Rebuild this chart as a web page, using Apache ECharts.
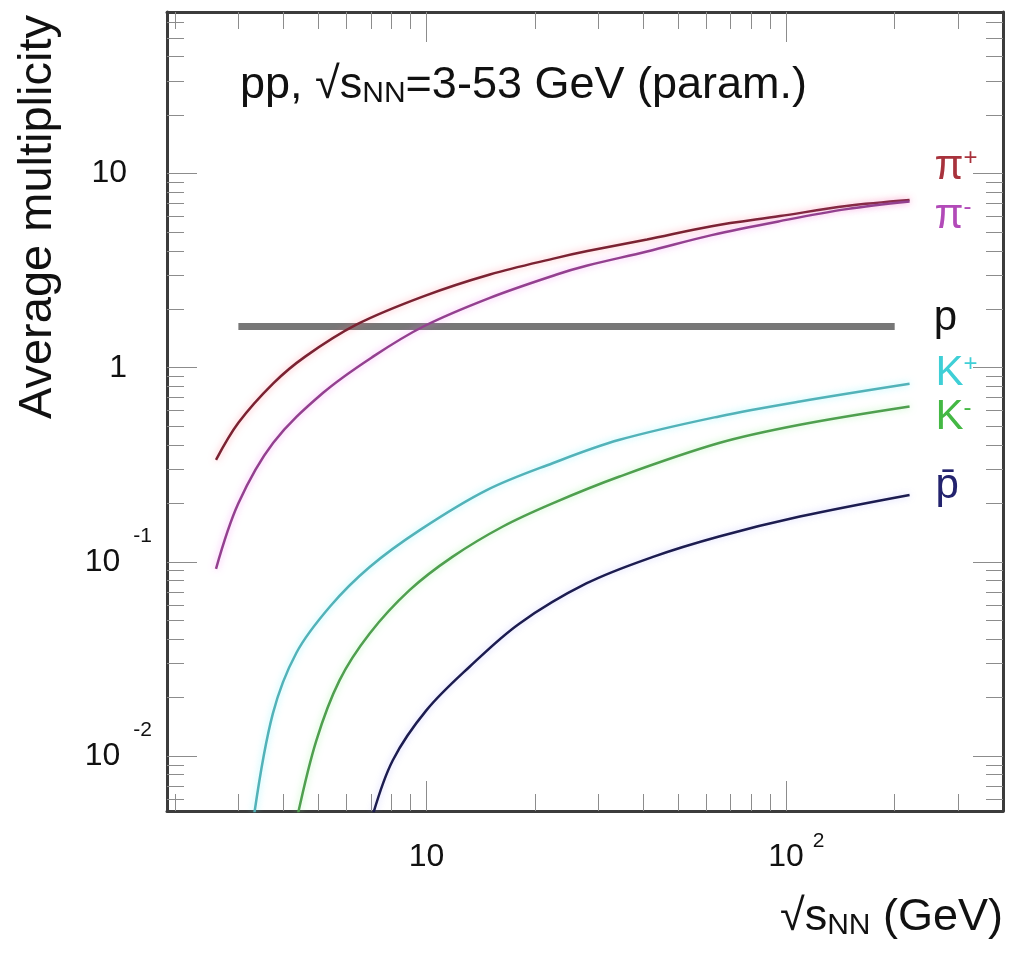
<!DOCTYPE html>
<html>
<head>
<meta charset="utf-8">
<title>Average multiplicity vs sqrt(s)</title>
<script src="https://cdn.jsdelivr.net/npm/echarts@6.0.0/dist/echarts.min.js"></script>
<style>
  html, body { margin: 0; padding: 0; background: #fff; }
  #chart { width: 1009px; height: 956px; }
</style>
</head>
<body>
<div id="chart"></div>
<script>
// sqrt(s_NN) in GeV and average multiplicity
var piPlusX  = [2.6, 3.0, 3.75, 4.6, 6.4, 9.8, 15, 23, 28, 41, 62, 96, 147, 220];
var piPlusY  = [0.335, 0.52, 0.83, 1.14, 1.67, 2.33, 3.02, 3.68, 3.99, 4.58, 5.36, 6.04, 6.8, 7.3];
var piMinusX = [2.6, 3.0, 3.75, 5.15, 7.1, 9.8, 15, 23, 28, 41, 62, 96, 147, 220];
var piMinusY = [0.092, 0.2, 0.41, 0.74, 1.14, 1.63, 2.29, 3.02, 3.36, 3.97, 4.82, 5.69, 6.56, 7.18];
var protonX  = [3, 200];
var protonY  = [1.63, 1.63];
var kPlusX   = [3.32, 3.74, 4.35, 5.4, 6.95, 9.6, 14.7, 22.4, 34.4, 65, 109, 220];
var kPlusY   = [0.005, 0.0165, 0.034, 0.059, 0.094, 0.146, 0.234, 0.322, 0.425, 0.561, 0.67, 0.827];
var kMinusX  = [4.39, 4.94, 5.73, 6.95, 8.97, 11.8, 16.3, 22.4, 34.4, 65, 109, 220];
var kMinusY  = [0.005, 0.012, 0.0245, 0.0427, 0.0714, 0.106, 0.152, 0.2, 0.275, 0.409, 0.508, 0.631];
var pbarX    = [7.1, 8.06, 10, 13.15, 18.1, 27.8, 42.6, 65, 109, 220];
var pbarY    = [0.005, 0.0095, 0.0172, 0.0287, 0.048, 0.0773, 0.106, 0.135, 0.171, 0.221];

// axis ranges and ticks
var xRange = [1.9, 400];
var yRange = [0.0052, 68];
var xMajor = [10, 100];
var xMinor = [2, 3, 4, 5, 6, 7, 8, 9, 20, 30, 40, 50, 60, 70, 80, 90, 200, 300];
var yMajor = [0.01, 0.1, 1, 10];
var yMinor = [0.006, 0.007, 0.008, 0.009, 0.02, 0.03, 0.04, 0.05, 0.06, 0.07, 0.08, 0.09,
              0.2, 0.3, 0.4, 0.5, 0.6, 0.7, 0.8, 0.9, 2, 3, 4, 5, 6, 7, 8, 9, 20, 30, 40, 50, 60];

var FONT = '"Liberation Sans", Arial, Helvetica, sans-serif';

function pairs(xs, ys) {
    return xs.map(function (x, i) { return [x, ys[i]]; });
}

function expOf(v) {
    var l = Math.log10(v);
    var e = Math.round(l);
    return Math.abs(l - e) < 1e-6 ? e : null;
}

function xLabel(v) {
    var e = expOf(v);
    if (e === null) return '';
    if (e === 0) return '{b|1}';
    if (e === 1) return '{b|10}';
    return '{be|10}{s|' + e + '}';
}

function yLabel(v) {
    var e = expOf(v);
    if (e === null) return '';
    if (e === 0) return '{b|1}{g| }';
    if (e === 1) return '{b|10}{g| }';
    return '{b|10}{s|' + e + '}';
}

var tickStyle = { color: '#8c8c8c', width: 1 };
var frameStyle = { color: '#3c3c3c', width: 3 };

function axis(pos, vals, len, lineOn, label) {
    var isX = pos === 'bottom' || pos === 'top';
    return {
        type: 'log',
        position: pos,
        min: isX ? xRange[0] : yRange[0],
        max: isX ? xRange[1] : yRange[1],
        axisLine: { show: lineOn, onZero: false, lineStyle: frameStyle },
        axisTick: { show: true, inside: true, length: len, customValues: vals, lineStyle: tickStyle },
        axisLabel: label || { show: false },
        splitLine: { show: false },
        minorTick: { show: false }
    };
}

var xLabelCfg = {
    show: true,
    customValues: xMajor,
    margin: 20,
    formatter: xLabel,
    color: '#111',
    rich: {
        b:  { fontSize: 32, lineHeight: 52, verticalAlign: 'middle', fontFamily: FONT, color: '#111' },
        be: { fontSize: 32, lineHeight: 52, verticalAlign: 'middle', fontFamily: FONT, color: '#111', padding: [0, 0, 0, 20] },
        s:  { fontSize: 21, lineHeight: 21, verticalAlign: 'top', fontFamily: FONT, color: '#111', padding: [0, 0, 0, 9] }
    }
};

var yLabelCfg = {
    show: true,
    customValues: yMajor,
    margin: 15,
    formatter: yLabel,
    color: '#111',
    rich: {
        b: { fontSize: 32, lineHeight: 72, verticalAlign: 'middle', fontFamily: FONT, color: '#111' },
        s: { fontSize: 21, lineHeight: 21, verticalAlign: 'top', fontFamily: FONT, color: '#111', padding: [0, 0, 0, 13] },
        g: { width: 25, fontSize: 20 }
    }
};

function endRich(color) {
    return {
        b: { fontSize: 42, lineHeight: 42, fontFamily: FONT, color: color },
        s: { fontSize: 24, lineHeight: 24, verticalAlign: 'top', fontFamily: FONT, color: color }
    };
}

function curve(name, data, color, glow, labelText, labelColor, offset, width) {
    return {
        name: name,
        type: 'line',
        data: data,
        smooth: 0.35,
        symbol: 'none',
        clip: true,
        lineStyle: { color: color, width: width || 2.5, shadowColor: glow, shadowBlur: glow ? 7 : 0 },
        endLabel: {
            show: true,
            formatter: labelText,
            offset: offset,
            rich: endRich(labelColor)
        }
    };
}

var chart = echarts.init(document.getElementById('chart'));

var option = {
    animation: false,
    backgroundColor: '#ffffff',
    grid: { left: 167, right: 6, top: 12, bottom: 145, outerBoundsMode: 'none', containLabel: false },
    xAxis: [
        axis('bottom', xMajor, 30, true, xLabelCfg),
        axis('bottom', xMinor, 17, false),
        axis('top', xMajor, 30, true),
        axis('top', xMinor, 17, false)
    ],
    yAxis: [
        axis('left', yMajor, 30, true, yLabelCfg),
        axis('left', yMinor, 17, false),
        axis('right', yMajor, 30, true),
        axis('right', yMinor, 17, false)
    ],
    series: [
        curve('p', pairs(protonX, protonY), '#777777', null, '{b|p}', '#111111', [31, -8], 7),
        curve('pi+', pairs(piPlusX, piPlusY), '#7a2232', 'rgba(255,110,130,0.55)', '{b|π}{s|+}', '#a8323c', [17, -33]),
        curve('pi-', pairs(piMinusX, piMinusY), '#93408f', 'rgba(240,110,240,0.55)', '{b|π}{s|-}', '#b24ab8', [17, 15]),
        curve('K+', pairs(kPlusX, kPlusY), '#52b2b8', 'rgba(110,240,250,0.6)', '{b|K}{s|+}', '#3fcfd6', [18, -10]),
        curve('K-', pairs(kMinusX, kMinusY), '#4f9f4f', 'rgba(130,235,130,0.55)', '{b|K}{s|-}', '#44b844', [18, 11]),
        curve('pbar', pairs(pbarX, pbarY), '#1c1c50', 'rgba(140,140,255,0.4)', '{b|p\u0304}', '#23236e', [18, -9])
    ],
    graphic: [
        {
            type: 'text',
            x: 240, y: 63,
            style: {
                text: '{a|pp, √s}{n|NN}{a|=3-53 GeV (param.)}',
                align: 'left',
                verticalAlign: 'top',
                fill: '#111',
                rich: {
                    a: { fontSize: 45, lineHeight: 46, verticalAlign: 'top', fontFamily: FONT, fill: '#111' },
                    n: { fontSize: 30, lineHeight: 30, verticalAlign: 'bottom', padding: [20, 0, 0, 0], fontFamily: FONT, fill: '#111' }
                }
            }
        },
        {
            type: 'text',
            x: 1003, y: 895,
            style: {
                text: '{a|√s}{n|NN}{a| (GeV)}',
                align: 'right',
                verticalAlign: 'top',
                fill: '#111',
                rich: {
                    a: { fontSize: 45, lineHeight: 46, verticalAlign: 'top', fontFamily: FONT, fill: '#111' },
                    n: { fontSize: 30, lineHeight: 30, verticalAlign: 'bottom', padding: [26, 0, 0, 0], fontFamily: FONT, fill: '#111' }
                }
            }
        },
        {
            type: 'text',
            x: 38, y: 15,
            rotation: Math.PI / 2,
            style: {
                text: 'Average multiplicity',
                align: 'right',
                verticalAlign: 'middle',
                fontSize: 47,
                fontFamily: FONT,
                fill: '#111'
            }
        }
    ]
};

chart.setOption(option);
window.addEventListener('resize', function () {
    chart.resize();
});
</script>
</body>
</html>
